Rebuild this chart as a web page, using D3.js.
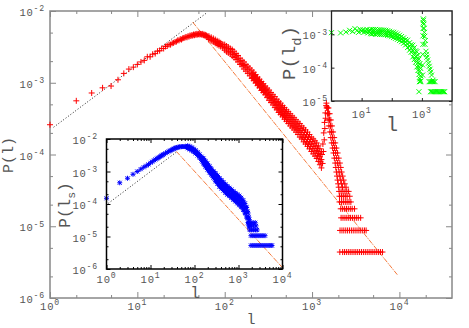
<!DOCTYPE html>
<html>
<head>
<meta charset="utf-8">
<script src="https://cdn.jsdelivr.net/npm/d3@7"></script>
<style>body{margin:0;background:#fff}</style>
</head>
<body>
<div id="chart"></div>
<script>
// --- main panel: P(l), red "+" ---
const redRise = [[1,2.6e-4],[2,5.6e-4],[3,7.2e-4],[4,8.5e-4],[5,9.0e-4],[6,1.1e-3],[7,1.35e-3],[8,1.55e-3],[9,1.65e-3],[10,1.8e-3],
  [11,1.95e-3],[12,2.05e-3],[13,2.3e-3],[14,2.3e-3],[15,2.5e-3],[16,2.55e-3],[17,2.75e-3],[18,2.8e-3],[19,3.0e-3],[20,3.0e-3],
  [21,3.2e-3],[22,3.25e-3],[23,3.4e-3],[24,3.4e-3],[25,3.55e-3],[26,3.6e-3],[27,3.7e-3],[28,3.75e-3],[29,3.9e-3],[30,3.9e-3],
  [31,4.05e-3],[32,4.0e-3],[33,4.15e-3],[34,4.2e-3],[35,4.25e-3],[36,4.35e-3],[37,4.3e-3],[38,4.45e-3],[39,4.4e-3],[40,4.55e-3],
  [41,4.5e-3],[42,4.6e-3],[43,4.55e-3],[44,4.7e-3],[45,4.6e-3],[46,4.75e-3],[47,4.65e-3],[48,4.8e-3],[49,4.7e-3],[50,4.75e-3],
  [51,4.85e-3],[52,4.7e-3],[53,4.8e-3],[54,4.75e-3],[55,4.65e-3],[56,4.8e-3],[57,4.6e-3],[58,4.7e-3],[59,4.55e-3],[60,4.65e-3],
  [61,4.45e-3],[62,4.55e-3],[63,4.35e-3],[64,4.45e-3]];
// rows: l, then the P values read at that l
const redFall = [[66,4.25e-3,4.0e-3,4.45e-3],[70,4.07e-3,3.85e-3,4.3e-3],[74,3.92e-3,3.7e-3,4.15e-3],[78,3.77e-3,3.55e-3,4.0e-3],
  [82,3.63e-3,3.4e-3,3.85e-3],[86,3.52e-3,3.3e-3,3.75e-3],[90,3.4e-3,3.2e-3,3.6e-3],[95,3.24e-3,3.05e-3,3.45e-3],
  [100,3.1e-3,2.85e-3,3.4e-3],[105,2.98e-3,2.7e-3,3.25e-3],[110,2.86e-3,2.6e-3,3.15e-3],[116,2.74e-3,2.5e-3,3.0e-3],
  [122,2.62e-3,2.35e-3,2.9e-3],[128,2.47e-3,2.25e-3,2.75e-3],[135,2.3e-3,2.1e-3,2.55e-3],[142,2.15e-3,1.95e-3,2.4e-3],
  [150,2.0e-3,1.8e-3,2.2e-3],[158,1.86e-3,1.7e-3,2.05e-3],[166,1.74e-3,1.55e-3,1.95e-3],[175,1.62e-3,1.45e-3,1.8e-3],
  [184,1.52e-3,1.35e-3,1.7e-3],[194,1.41e-3,1.25e-3,1.6e-3],[204,1.31e-3,1.15e-3,1.5e-3],[215,1.22e-3,1.07e-3,1.4e-3],
  [226,1.13e-3,9.9e-4,1.3e-3],[238,1.04e-3,9.1e-4,1.2e-3],[250,9.7e-4,8.5e-4,1.12e-3],[263,9.0e-4,7.8e-4,1.04e-3],
  [277,8.4e-4,7.3e-4,9.7e-4],[291,7.8e-4,6.8e-4,9.0e-4],[306,7.2e-4,6.2e-4,8.4e-4],[322,6.7e-4,5.7e-4,7.9e-4],
  [339,6.2e-4,5.3e-4,7.3e-4],[357,5.75e-4,4.9e-4,6.8e-4],[375,5.35e-4,4.5e-4,6.4e-4],[395,4.95e-4,4.2e-4,5.9e-4],
  [415,4.6e-4,3.85e-4,5.5e-4],[437,4.3e-4,3.6e-4,5.2e-4],[460,4.0e-4,3.35e-4,4.8e-4],[484,3.73e-4,3.1e-4,4.5e-4],
  [509,3.49e-4,2.9e-4,4.2e-4],[535,3.27e-4,2.7e-4,3.95e-4],[563,3.05e-4,2.5e-4,3.7e-4],[592,2.85e-4,2.35e-4,3.45e-4],
  [623,2.67e-4,2.2e-4,3.25e-4],[655,2.49e-4,2.05e-4,3.05e-4],[689,2.33e-4,1.9e-4,2.85e-4],[725,2.17e-4,1.75e-4,2.7e-4],
  [762,2.02e-4,1.65e-4,2.5e-4],[802,1.88e-4,1.5e-4,2.35e-4],[843,1.74e-4,1.4e-4,2.2e-4],[887,1.62e-4,1.3e-4,2.05e-4],
  [933,1.5e-4,1.2e-4,1.9e-4],[981,1.4e-4,1.1e-4,1.75e-4],[1030,1.3e-4,1.02e-4,1.65e-4],[1080,1.22e-4,9.5e-5,1.55e-4],
  [1130,1.13e-4,8.8e-5,1.45e-4],[1180,1.03e-4,8.0e-5,1.32e-4],[1230,9.3e-5,7.2e-5,1.2e-4],[1280,8.5e-5,6.5e-5,1.1e-4]];
// in-between readings of the same band
const redFallMid = [[209,1.18e-3,1.35e-3],[220,1.1e-3,1.26e-3],[232,1.01e-3,1.16e-3],[244,9.4e-4,1.08e-3],
  [256,8.7e-4,1.0e-3],[270,8.1e-4,9.3e-4],[284,7.6e-4,8.7e-4],[298,7.0e-4,8.0e-4],[314,6.5e-4,7.45e-4],
  [330,6.0e-4,6.9e-4],[348,5.6e-4,6.4e-4],[366,5.2e-4,5.95e-4],[385,4.8e-4,5.5e-4],[405,4.35e-4,5.25e-4],
  [426,4.05e-4,4.9e-4],[448,3.8e-4,4.55e-4],[472,3.5e-4,4.25e-4],[496,3.3e-4,3.95e-4],[522,3.07e-4,3.7e-4],
  [549,2.87e-4,3.47e-4],[577,2.68e-4,3.25e-4],[607,2.5e-4,3.04e-4],[639,2.35e-4,2.84e-4],[672,2.2e-4,2.65e-4],
  [707,2.05e-4,2.48e-4],[743,1.9e-4,2.3e-4],[782,1.74e-4,2.18e-4],[822,1.62e-4,2.03e-4],[865,1.5e-4,1.88e-4],
  [910,1.39e-4,1.75e-4],[957,1.29e-4,1.62e-4],[1005,1.2e-4,1.51e-4],[1055,1.12e-4,1.41e-4],[1105,1.05e-4,1.31e-4],
  [1155,9.6e-5,1.21e-4],[1205,8.7e-5,1.1e-4],[1255,7.9e-5,1.0e-4]];
const redSpike = [[1300,1.0e-4],[1320,7.5e-5],[1330,1.4e-4],[1350,1.1e-4],[1360,2.0e-4],[1380,1.6e-4],[1390,2.8e-4],
  [1400,2.3e-4],[1420,3.8e-4],[1430,3.2e-4],[1450,4.8e-4],[1460,5.2e-4],[1480,4.6e-4]];
// rows: P, then the l values read at that P (right branch of the peak)
const redBranch = [[4.45e-4,1470,1504,1540],[3.7e-4,1500,1545,1590],[3.03e-4,1530,1585,1640],[2.5e-4,1560,1625,1690],
  [2.06e-4,1600,1670,1740],[1.72e-4,1640,1715,1790],[1.45e-4,1680,1760,1840],[1.23e-4,1720,1810,1900],
  [1.05e-4,1760,1860,1960],[8.9e-5,1800,1910,2020],[7.6e-5,1840,1960,2080],[6.6e-5,1870,2000,2130],
  [5.7e-5,1900,2040,2180],[5.0e-5,1930,2080,2240],[4.4e-5,1960,2130,2300],[3.9e-5,1990,2180,2370],[3.5e-5,2020,2230,2450]];
const redTailP = [4.37e-6, 8.74e-6, 1.31e-5, 1.75e-5, 2.18e-5, 2.62e-5, 3.06e-5];
const redTailL = [
  [2080,2240,2350,2470,2600,2730,2870,3020,3170,3330,3500,3680,3870,4070,4280,4500,4730,4970,5230,5500,5780,6070,6400],
  [2090,2200,2310,2430,2550,2680,2820,2960,3110,3270,3440,3610,3800,3990,4160],
  [2150,2260,2380,2500,2630,2760,2900,3050,3210,3380,3600],
  [2130,2240,2360,2480,2600,2740,2880,3060],
  [2060,2170,2280,2400,2520,2650,2780],
  [2060,2170,2280,2400,2520,2700],
  [2040,2150,2260,2380,2500,2620]];
const redFitRise = [[1.1,2.4e-4],[62,9.4e-3]];
const redFitFall = [[43,7.0e-3],[9500,2.1e-6]];

// --- inset: P(l_s), blue "*" ---
const blueRise = [[1,1.5e-4],[2,4.5e-4],[3,6.2e-4],[4,8.2e-4],[5,1.0e-3],[6,1.18e-3],[7,1.35e-3],[8,1.5e-3],[9,1.65e-3],
  [10,1.85e-3],[11,2.0e-3],[12,2.2e-3],[13,2.35e-3],[14,2.5e-3],[15,2.65e-3],[16,2.8e-3],[17,2.95e-3],[18,3.1e-3],
  [19,3.25e-3],[20,3.4e-3],[22,3.65e-3],[24,3.9e-3],[26,4.15e-3],[28,4.4e-3],[30,4.6e-3],[32,4.8e-3],[34,5.0e-3],
  [36,5.2e-3],[38,5.35e-3],[40,5.5e-3],[43,5.6e-3],[46,5.75e-3],[50,5.8e-3],[54,5.85e-3],[58,5.85e-3],[62,5.8e-3],[66,5.7e-3]];
const blueFall = [[70,5.74e-3,5.2e-3,6.2e-3],[78,5.33e-3,4.8e-3,5.9e-3],[87,4.94e-3,4.4e-3,5.5e-3],[96,4.47e-3,4.0e-3,5.0e-3],
  [106,4.02e-3,3.6e-3,4.5e-3],[118,3.5e-3,3.1e-3,3.95e-3],[131,2.96e-3,2.6e-3,3.35e-3],[145,2.51e-3,2.2e-3,2.85e-3],
  [161,2.07e-3,1.7e-3,2.5e-3],[178,1.71e-3,1.4e-3,2.1e-3],[197,1.42e-3,1.15e-3,1.75e-3],[219,1.17e-3,9.4e-4,1.45e-3],
  [243,9.7e-4,7.8e-4,1.2e-3],[270,8.0e-4,6.4e-4,1.0e-3],[300,6.7e-4,5.0e-4,9.0e-4],[333,5.6e-4,4.2e-4,7.5e-4],
  [370,4.6e-4,3.4e-4,6.2e-4],[410,4.0e-4,3.0e-4,5.4e-4],[455,3.47e-4,2.6e-4,4.7e-4],[505,3.0e-4,2.2e-4,4.0e-4],
  [560,2.64e-4,1.95e-4,3.55e-4],[620,2.34e-4,1.75e-4,3.15e-4],[690,2.06e-4,1.55e-4,2.8e-4],[765,1.83e-4,1.35e-4,2.45e-4],
  [850,1.63e-4,1.2e-4,2.2e-4],[940,1.45e-4,1.05e-4,2.0e-4],[1040,1.29e-4,9.2e-5,1.8e-4],[1150,1.11e-4,8.0e-5,1.55e-4],
  [1280,9.3e-5,6.6e-5,1.3e-4],[1400,7.4e-5,5.3e-5,1.04e-4],[1530,5.6e-5,4.0e-5,7.8e-5],[1650,3.8e-5,2.7e-5,5.3e-5],
  [1760,2.5e-5,2.0e-5,3.3e-5]];
const blueFallMid = [[153,2.0e-3,2.6e-3],[169,1.65e-3,2.15e-3],[187,1.35e-3,1.8e-3],[208,1.1e-3,1.5e-3],
  [231,9.2e-4,1.25e-3],[256,7.5e-4,1.03e-3],[285,6.1e-4,8.7e-4],[316,5.0e-4,7.4e-4],[351,4.2e-4,6.2e-4],
  [390,3.5e-4,5.3e-4],[432,3.05e-4,4.55e-4],[480,2.65e-4,3.95e-4],[532,2.3e-4,3.45e-4],[590,2.05e-4,3.05e-4],
  [655,1.8e-4,2.7e-4],[727,1.6e-4,2.4e-4],[807,1.4e-4,2.1e-4],[895,1.25e-4,1.9e-4],[990,1.1e-4,1.7e-4],
  [1095,9.6e-5,1.5e-4],[1215,8.2e-5,1.27e-4],[1340,6.6e-5,1.04e-4],[1465,5.1e-5,8.2e-5],[1590,3.7e-5,6.0e-5],
  [1700,2.5e-5,4.0e-5]];
const blueTailP = [5.3e-6, 1.06e-5, 1.59e-5, 2.12e-5, 2.65e-5];
const blueTailL = [
  [1920,2130,2370,2630,2920,3240,3600,4000,4440,4930,5470,5770],
  [1920,2130,2370,2630,2920,3240,3600,4000],
  [1800,2000,2220,2460,2650],
  [1760,1960,2180,2500],
  [1720,1920,2150,2400]];
const blueFitRise = [[1.1,1.05e-4],[40,4.1e-3]];
const blueFitFall = [[39,4.1e-3],[10000,1.1e-6]];

// --- inset: P(l_d), green "x" ---
const greenRise = [[1,1.12e-3],[2,1.1e-3],[3,1.17e-3],[4,1.32e-3],[5,1.2e-3],[6,1.48e-3],[7,1.3e-3],[8,1.15e-3],[9,1.4e-3],
  [10,1.25e-3],[11,1.35e-3],[12,1.15e-3],[13,1.3e-3],[14,1.2e-3],[15,1.4e-3],[16,1.1e-3],[17,1.28e-3],[18,1.18e-3],
  [19,1.35e-3],[20,1.05e-3]];
const greenFall = [[22,1.2e-3,1.03e-3,1.4e-3],[25,1.2e-3,1.05e-3,1.38e-3],[29,1.19e-3,1.0e-3,1.4e-3],[34,1.18e-3,1.02e-3,1.36e-3],
  [40,1.17e-3,1.0e-3,1.37e-3],[46,1.16e-3,9.9e-4,1.35e-3],[54,1.15e-3,9.8e-4,1.34e-3],[63,1.13e-3,9.7e-4,1.32e-3],
  [73,1.09e-3,9.3e-4,1.28e-3],[85,1.05e-3,9.0e-4,1.23e-3],[99,1.0e-3,8.5e-4,1.17e-3],[115,9.6e-4,8.0e-4,1.15e-3],
  [134,9.1e-4,7.6e-4,1.09e-3],[156,8.5e-4,7.1e-4,1.02e-3],[182,7.8e-4,6.5e-4,9.4e-4],[212,7.2e-4,6.0e-4,8.6e-4],
  [247,6.5e-4,5.4e-4,7.8e-4],[288,5.8e-4,4.8e-4,7.0e-4],[335,5.15e-4,4.0e-4,6.7e-4],[390,4.35e-4,3.35e-4,5.6e-4],
  [440,3.8e-4,2.9e-4,4.9e-4],[500,3.15e-4,2.1e-4,4.7e-4],[560,2.64e-4,1.75e-4,3.95e-4],[620,2.15e-4,1.45e-4,3.2e-4],
  [680,1.77e-4,1.05e-4,3.0e-4],[740,1.39e-4,8.2e-5,2.35e-4],[800,1.06e-4,6.2e-5,1.8e-4],[860,7.8e-5,4.6e-5,1.3e-4],
  [910,5.75e-5,4.0e-5,9.5e-5]];
const greenSpike = [[1060,6e-5],[1060,1.2e-4],[1070,2.5e-4],[1080,5e-4],[1090,9e-4],[1100,1.5e-3],[1110,2.2e-3],[1120,2.9e-3],
  [1130,2.62e-3],[1190,1.51e-3],[1240,8.7e-4],[1270,5.0e-4],[1370,3.1e-4],[1470,2.06e-4],[1660,1.36e-4],[1870,9.0e-5],
  [2100,6.0e-5],[2350,4.2e-5],[1160,2.0e-3],[1210,1.15e-3],[1300,6.5e-4],[1420,2.5e-4],[1560,1.7e-4],[1760,1.1e-4],[1980,7.4e-5]];
const greenTailP = [1.9e-5, 3.8e-5];
const greenTailL = [
  [800,1940,2120,2330,2550,2800,3060,3360,3680,4030,4420,4840,5300,5680],
  [830,900,1740,1900,2080,2280,2500,2740]];

const W = 469, H = 328;
const grey = "#555";
const svg = d3.select("#chart").append("svg")
  .attr("width", W).attr("height", H)
  .style("font-family", "'Liberation Mono', 'DejaVu Sans Mono', monospace");

const rows = r => r.flatMap(([l, ...ps]) => ps.map(p => [l, p]));
const rowsP = r => r.flatMap(([p, ...ls]) => ls.map(l => [l, p]));
const bands = (ps, ls) => ps.flatMap((p, i) => ls[i].map(l => [l, p]));

const plus = s => `M${-s},0H${s}M0,${-s}V${s}`;
const cross = s => `M${-s},${-s}L${s},${s}M${-s},${s}L${s},${-s}`;

function marks(g, x, y, pts, shape, color) {
  g.append("g").selectAll("path").data(pts).join("path")
    .attr("transform", d => `translate(${x(d[0])},${y(d[1])})`)
    .attr("d", shape).attr("fill", "none")
    .attr("stroke", color).attr("stroke-width", 1);
}

function fit(g, x, y, pts, color, dash) {
  g.append("path").datum(pts)
    .attr("d", d3.line().x(d => x(d[0])).y(d => y(d[1])))
    .attr("fill", "none").attr("stroke", color).attr("stroke-width", 1)
    .attr("stroke-dasharray", dash);
}

function pow10(g, px, py, e, anchor, fs) {
  const t = g.append("text").attr("x", px).attr("y", py)
    .attr("text-anchor", anchor).attr("font-size", fs)
    .attr("letter-spacing", 0.8).attr("fill", grey);
  t.append("tspan").text("10");
  t.append("tspan").attr("dy", -fs * 0.45).attr("font-size", fs * 0.78).text(e);
}

function minors(decs, mult) {
  return decs.flatMap(d => mult.map(m => m * d));
}

function frame(g, x, y, o) {
  const [x0, x1] = x.range(), [y0, y1] = y.range();
  const tick = (axis, tr) => g.append("g").attr("transform", tr).call(axis)
    .call(a => a.select(".domain").remove())
    .call(a => a.selectAll("text").remove())
    .call(a => a.selectAll("line").attr("stroke", o.color));
  tick(d3.axisBottom(x).tickValues(o.xMaj).tickSize(-o.maj), `translate(0,${y0})`);
  tick(d3.axisBottom(x).tickValues(o.xMin).tickSize(-o.min), `translate(0,${y0})`);
  tick(d3.axisTop(x).tickValues(o.xMaj).tickSize(-o.maj), `translate(0,${y1})`);
  tick(d3.axisTop(x).tickValues(o.xMin).tickSize(-o.min), `translate(0,${y1})`);
  tick(d3.axisLeft(y).tickValues(o.yMaj).tickSize(-o.maj), `translate(${x0},0)`);
  tick(d3.axisLeft(y).tickValues(o.yMin).tickSize(-o.min), `translate(${x0},0)`);
  tick(d3.axisRight(y).tickValues(o.yMaj).tickSize(-o.maj), `translate(${x1},0)`);
  tick(d3.axisRight(y).tickValues(o.yMin).tickSize(-o.min), `translate(${x1},0)`);
  g.append("rect").attr("x", x0).attr("y", y1).attr("width", x1 - x0).attr("height", y0 - y1)
    .attr("fill", "none").attr("stroke", o.color).attr("stroke-width", o.sw);
}

function title(g, px, py, parts, fs, rot) {
  const t = g.append("text").attr("font-size", fs).attr("fill", grey)
    .attr("text-anchor", "middle")
    .attr("transform", `translate(${px},${py})` + (rot ? " rotate(-90)" : ""));
  parts.forEach(([s, sub], i) => {
    const sp = t.append("tspan").text(s);
    if (sub) sp.attr("font-size", fs * 0.72).attr("dy", fs * 0.3);
    else if (i > 0 && parts[i - 1][1]) sp.attr("dy", -fs * 0.3);
  });
}

// ---------- main panel ----------
const x = d3.scaleLog().domain([1, 4e4]).range([50, 452]);
const y = d3.scaleLog().domain([1e-6, 1e-2]).range([298, 11]);
const gm = svg.append("g");
const mainDec = [1, 10, 100, 1e3, 1e4];
frame(gm, x, y, {color: "#888", sw: 1.5, maj: 6, min: 3,
  xMaj: mainDec, xMin: minors(mainDec, [2, 5]).filter(v => v < 4e4),
  yMaj: [1e-6, 1e-5, 1e-4, 1e-3, 1e-2], yMin: minors([1e-6, 1e-5, 1e-4, 1e-3], [2, 5])});

fit(gm, x, y, redFitRise, "#222", "1,2");
fit(gm, x, y, redFitFall, "#f47a3c", "5,1,1,1");
marks(gm, x, y, redRise, plus(3), "#ff0000");
marks(gm, x, y, rows(redFall), plus(3), "#ff0000");
marks(gm, x, y, rows(redFallMid), plus(3), "#ff0000");
marks(gm, x, y, redSpike, plus(3), "#ff0000");
marks(gm, x, y, rowsP(redBranch), plus(3), "#ff0000");
marks(gm, x, y, bands(redTailP, redTailL), plus(3), "#ff0000");

mainDec.forEach((v, i) => pow10(gm, x(v), 310, String(i), "middle", 10.5));
[-6, -5, -4, -3, -2].forEach(e => pow10(gm, 45, y(Math.pow(10, e)) + 5, String(e), "end", 10.5));
title(gm, 251, 324, [["l"]], 15, false);
title(gm, 13, 155, [["P(l)"]], 15, true);

// ---------- inset P(l_s) ----------
const xb = d3.scaleLog().domain([1, 1e4]).range([106.5, 282.5]);
const yb = d3.scaleLog().domain([1e-6, 1e-2]).range([269, 139]);
const gb = svg.append("g");
gb.append("rect").attr("x", 106.5).attr("y", 139).attr("width", 176).attr("height", 130).attr("fill", "#fff");
const bDec = [1, 10, 100, 1e3, 1e4];
fit(gb, xb, yb, blueFitRise, "#222", "1,2");
fit(gb, xb, yb, blueFitFall, "#f47a3c", "5,1,1,1");
const star = plus(2.5) + cross(2);
marks(gb, xb, yb, blueRise, star, "#0000ff");
marks(gb, xb, yb, rows(blueFall), star, "#0000ff");
marks(gb, xb, yb, rows(blueFallMid), star, "#0000ff");
marks(gb, xb, yb, bands(blueTailP, blueTailL), star, "#0000ff");
frame(gb, xb, yb, {color: "#000", sw: 1.5, maj: 4, min: 2,
  xMaj: bDec, xMin: minors([1, 10, 100, 1e3], [2, 3, 4, 5, 6, 7, 8, 9]),
  yMaj: [1e-6, 1e-5, 1e-4, 1e-3, 1e-2], yMin: minors([1e-6, 1e-5, 1e-4, 1e-3], [2, 5])});
bDec.forEach((v, i) => pow10(gb, xb(v), 283, String(i), "middle", 10.5));
[-6, -5, -4, -3, -2].forEach(e => pow10(gb, 98, yb(Math.pow(10, e)) + 5, String(e), "end", 10.5));
title(gb, 195, 298, [["l"]], 16, false);
title(gb, 70, 205, [["P(l"], ["s", true], [")"]], 16, true);

// ---------- inset P(l_d) ----------
const xg = d3.scaleLog().domain([1, 1e4]).range([331.5, 452]);
const yg = d3.scaleLog().domain([1e-5, 5e-3]).range([101, 11]);
const gg = svg.append("g");
gg.append("rect").attr("x", 331.5).attr("y", 11).attr("width", 120.5).attr("height", 90).attr("fill", "#fff");
const gx = cross(2.5);
marks(gg, xg, yg, greenRise, gx, "#00ff00");
marks(gg, xg, yg, rows(greenFall), gx, "#00ff00");
marks(gg, xg, yg, greenSpike, gx, "#00ff00");
marks(gg, xg, yg, bands(greenTailP, greenTailL), gx, "#00ff00");
frame(gg, xg, yg, {color: "#222", sw: 1.3, maj: 3, min: 0,
  xMaj: [10, 100, 1e3], xMin: [], yMaj: [1e-5, 1e-4, 1e-3], yMin: []});
[[10, "1"], [1e3, "3"]].forEach(([v, e]) => pow10(gg, xg(v), 118, e, "middle", 10.5));
[-5, -4, -3].forEach(e => pow10(gg, 328, yg(Math.pow(10, e)) + 5, String(e), "end", 10.5));
title(gg, 392, 131, [["l"]], 20, false);
title(gg, 295, 53, [["P(l"], ["d", true], [")"]], 19, true);
</script>
</body>
</html>
